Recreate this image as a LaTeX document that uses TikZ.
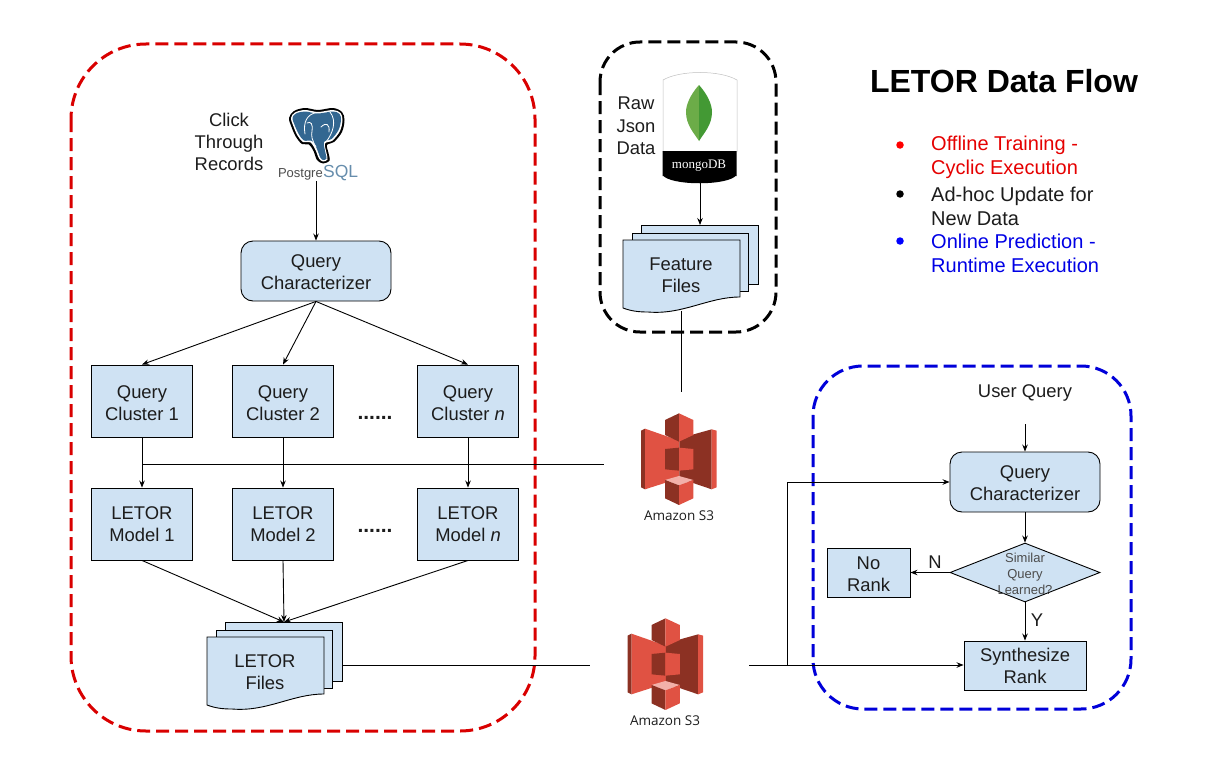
\documentclass[tikz,border=0pt]{standalone}
\usepackage{fontspec}
\setmainfont{Liberation Sans}
\newfontfamily\sthree{Open Sans}
\newfontfamily\mongofont{Liberation Serif}
\usetikzlibrary{arrows.meta,shapes.geometric}
\definecolor{boxblue}{HTML}{CFE2F3}
\definecolor{txt}{HTML}{1C1C1C}
\definecolor{pgblue}{HTML}{336791}
\definecolor{sa}{HTML}{E05243}
\definecolor{sb}{HTML}{8C3123}
\definecolor{sc}{HTML}{F2B0A9}
\definecolor{leafa}{HTML}{6CAC48}
\definecolor{leafb}{HTML}{439934}
\newcommand{\tdn}[1]{\rule{0pt}{#1pt}}
\tikzset{
  every node/.style={text=txt,font=\fontsize{18.4}{22}\selectfont,align=center,inner sep=0pt},
  rbox/.style={draw=black,fill=boxblue,line width=0.9pt,rounded corners=12pt,minimum width=150pt,minimum height=60pt},
  sbox/.style={draw=black,fill=boxblue,line width=0.9pt},
  zone/.style={line width=3pt,dash pattern=on 13pt off 6pt,rounded corners=#1},
  conn/.style={draw=black,line width=0.9pt},
  flow/.style={conn,-{Stealth[length=7pt,width=5.5pt]}},
  legend/.style={anchor=west,align=left,font=\fontsize{20}{24}\selectfont},
  dotmark/.style={circle,minimum size=7.5pt},
  dotrow/.style={font=\fontsize{21}{22}\selectfont\bfseries},
  sthreelabel/.style={font=\sthree\fontsize{13.5}{15}\selectfont},
}
\newcommand{\docstack}[2]{%
  \begin{scope}[shift={(#1,#2)},draw=black,line width=0.9pt,fill=boxblue]
    \filldraw (18,-15) rectangle (135,44);
    \filldraw (9,-7) rectangle (125,51);
    \filldraw (0,0) -- (117,0) -- (117,57) .. controls (85,57) and (60,75) .. (25,72) .. controls (15,72) and (8,71) .. (0,68) -- cycle;
  \end{scope}}
\newcommand{\sthreelogo}[2]{%
  \begin{scope}[shift={(#1,#2)},x=0.3333pt,y=-0.3333pt]
    \fill[sb] (123,92) -- (135,86) -- (135,268) -- (123,262) -- cycle;
    \fill[sa] (135,86) -- (238,122) -- (238,235) -- (135,268) -- cycle;
    \fill[sb] (335,88) -- (335,268) -- (238,235) -- (238,115) -- cycle;
    \fill[sa] (335,88) -- (350,92) -- (350,262) -- (335,268) -- cycle;
    \fill[sb] (195,60) -- (237,40) -- (237,125) -- (195,105) -- cycle;
    \fill[sa] (237,40) -- (280,60) -- (280,105) -- (237,125) -- cycle;
    \fill[sb] (195,147) -- (237,143) -- (237,212) -- (195,208) -- cycle;
    \fill[sa] (237,143) -- (280,147) -- (280,208) -- (237,212) -- cycle;
    \fill[sc] (195,240) -- (237,228) -- (280,240) -- (237,256) -- cycle;
    \fill[sb] (195,240) -- (237,256) -- (237,315) -- (195,295) -- cycle;
    \fill[sa] (237,256) -- (280,240) -- (280,295) -- (237,315) -- cycle;
  \end{scope}}
\begin{document}
\begin{tikzpicture}[x=1pt,y=-1pt]
\useasboundingbox (0,0) rectangle (1218,760);
% zones
\draw[zone=75pt,draw=red!85!black] (71,44) rectangle (535,731);
\draw[zone=40pt,draw=black] (600,42) rectangle (776,332);
\draw[zone=50pt,draw=blue!85!black] (813,366) rectangle (1131,709);

% title and legend
\node[font=\fontsize{32}{36}\selectfont\bfseries,text=black] (title) at (1004,81) {LETOR Data Flow};
\node[dotmark,fill=red] (b1) at (900,145) {};
\node[dotmark,fill=black] (b2) at (900,194) {};
\node[dotmark,fill=blue] (b3) at (900,241) {};
\node[legend,text=red!90!black] (l1) at (931,157) {Offline Training -\\Cyclic Execution};
\node[legend] (l2) at (931,206) {Ad-hoc Update for\\New Data};
\node[legend,text=blue!90!black] (l3) at (931,253) {Online Prediction -\\Runtime Execution};

% postgres logo
\node (click) at (229,142) {Click\\Through\\Records};
\fill[black] plot[smooth cycle,tension=0.55] coordinates {(289,118) (294,111) (305,108) (318,110) (333,108) (342,112) (344.5,120) (342,132) (334,142) (327,145) (328.5,153) (329.5,160.5) (323,163.5) (317,160) (313.5,151) (309,144.5) (302,144) (296,137) (291.5,127)};
\fill[white] plot[smooth cycle,tension=0.55] coordinates {(291,118) (295,112.5) (305,110) (318,112) (333,110) (340.5,113) (342.5,120) (340,131) (332.5,140.5) (325,143.5) (326.5,153) (327.5,159.5) (323,161.5) (319,158.5) (315.5,150) (310.5,142.5) (303,142) (297.5,135.5) (293.5,126.5)};
\fill[pgblue] plot[smooth cycle,tension=0.55] coordinates {(292.5,118) (296,113.5) (305,111.5) (318,113.5) (333,111.5) (339.5,114) (341,120) (338.5,130) (331.5,139) (324,142) (325.5,153) (326.5,158.5) (323,160) (320,157) (317,149) (312,141) (304,140.5) (299,134.5) (295,126)};
\draw[white,line width=0.8pt,line cap=round] (305,134) .. controls (303,122) and (307,114) .. (317,112.5);
\draw[white,line width=0.8pt,line cap=round] (307,123) .. controls (311,121) and (313,124) .. (312,131) .. controls (311,136) and (312,140) .. (316,147);
\draw[white,line width=0.8pt,line cap=round] (330,112) .. controls (337,121) and (333,133) .. (326,142);
\draw[white,line width=0.8pt,line cap=round] (321,127) .. controls (326,122) and (330,124) .. (329,132);
\node[font=\fontsize{13}{15}\selectfont,anchor=base east,text=black!70] (pg1) at (323,177) {Postgre};
\node[font=\fontsize{17.5}{20}\selectfont,anchor=base west,text=pgblue!75] (pg2) at (323,177) {SQL};
\node[minimum width=80pt,minimum height=76pt] (pg) at (316,143) {};

% left column
\node[rbox] (qc) at (316,271) {\tdn{15}Query\\Characterizer};
\node[sbox,minimum width=101pt,minimum height=72pt] (c1) at (142,401) {\tdn{17.5}Query\\Cluster 1};
\node[sbox,minimum width=101pt,minimum height=72pt] (c2) at (283,401) {\tdn{17.5}Query\\Cluster 2};
\node[sbox,minimum width=101pt,minimum height=72pt] (cn) at (468,401) {\tdn{17.5}Query\\Cluster \textit{n}};
\node[dotrow] (d1) at (375,418) {......};
\node[sbox,minimum width=101pt,minimum height=72pt] (m1) at (142,524) {LETOR\\Model 1};
\node[sbox,minimum width=101pt,minimum height=72pt] (m2) at (283,524) {LETOR\\Model 2};
\node[sbox,minimum width=101pt,minimum height=72pt] (mn) at (468,524) {LETOR\\Model \textit{n}};
\node[dotrow] (d2) at (375,531) {......};

\docstack{207}{637}
\node[minimum width=135pt,minimum height=87pt] (lf) at (274.5,665) {};
\node (lft) at (265,672) {LETOR\\Files};

% mongo
\node[font=\fontsize{18.4}{22.5}\selectfont] (raw) at (636,126) {Raw\\Json\\Data};
\draw[black!25,line width=0.5pt] (663,152) -- (663,80) .. controls (680,70) and (720,70) .. (737,80) -- (737,152);
\fill[black] (662.5,151) rectangle (736.5,176) (662.5,175) .. controls (670,186) and (729,186) .. (736.5,175) -- cycle;
\fill[leafa] (699,85) .. controls (690,95) and (686,105) .. (686,112) .. controls (686,125) and (694,133) .. (699,141) -- cycle;
\fill[leafb] (699,85) .. controls (708,95) and (712,105) .. (712,112) .. controls (712,125) and (704,133) .. (699,141) -- cycle;
\node[font=\mongofont\fontsize{13}{16}\selectfont,text=white] (mongotxt) at (699,166) {mongoDB};
\node[minimum width=75pt,minimum height=110pt] (mongo) at (700,128) {};

\docstack{623}{240}
\node[minimum width=134pt,minimum height=86pt] (ff) at (690,268) {};
\node (fft) at (681,275) {Feature\\Files};
\coordinate (ffb) at (681,311);
\coordinate (ffe) at (681,392);

% S3
\sthreelogo{600}{400}
\node[sthreelabel] (s3at) at (679,516) {Amazon S3};
\coordinate (s3a) at (604,464);
\sthreelogo{586.5}{605}
\node[sthreelabel] (s3bt) at (665,721) {Amazon S3};
\coordinate (s3bl) at (590,665);
\coordinate (s3br) at (749,665);
\coordinate (jn) at (787,665);

% right column
\node (uq) at (1025,393) {User Query};
\coordinate (uqb) at (1025,424);
\node[rbox] (qr) at (1025,482) {\tdn{15}Query\\Characterizer};
\node[diamond,aspect=2.54,draw=black,fill=boxblue,line width=0.9pt,minimum width=150pt,minimum height=59pt] (dec) at (1025,572.5) {};
\node[font=\fontsize{13}{16}\selectfont,text=black!70] (dect) at (1025,574) {Similar\\Query\\Learned?};
\node[sbox,minimum width=83pt,minimum height=49pt] (no) at (868.5,572.5) {\tdn{16}No\\Rank};
\node[sbox,minimum width=122pt,minimum height=49pt] (syn) at (1025,665.5) {\tdn{15}Synthesize\\Rank};
\node (nl) at (935,562) {N};
\node (yl) at (1037,620) {Y};

% connectors
\draw[flow] (316,181) -- (qc.north);
\draw[flow] (qc.south) -- (c1.north);
\draw[flow] (qc.south) -- (c2.north);
\draw[flow] (qc.south) -- (cn.north);
\draw[flow] (c1) -- (m1);
\draw[flow] (c2) -- (m2);
\draw[flow] (cn) -- (mn);
\draw[conn] (c1.south |- s3a) -- (s3a);
\coordinate (lfin) at (284,622);
\draw[flow] (m1.south) -- (lfin);
\draw[flow] (m2.south) -- (lfin);
\draw[flow] (mn.south) -- (lfin);
\draw[conn] (lf.east |- s3bl) -- (s3bl);
\draw[flow] (700,183) -- (700,225);
\draw[conn] (ffb) -- (ffe);
\draw[flow] (s3br) -- (syn.west |- s3br);
\draw[flow] (jn) |- (qr.west);
\draw[flow] (uqb) -- (qr.north);
\draw[flow] (qr.south) -- (dec.north);
\draw[flow] (dec.west) -- (no.east);
\draw[flow] (dec.south) -- (syn.north);
\end{tikzpicture}
\end{document}
